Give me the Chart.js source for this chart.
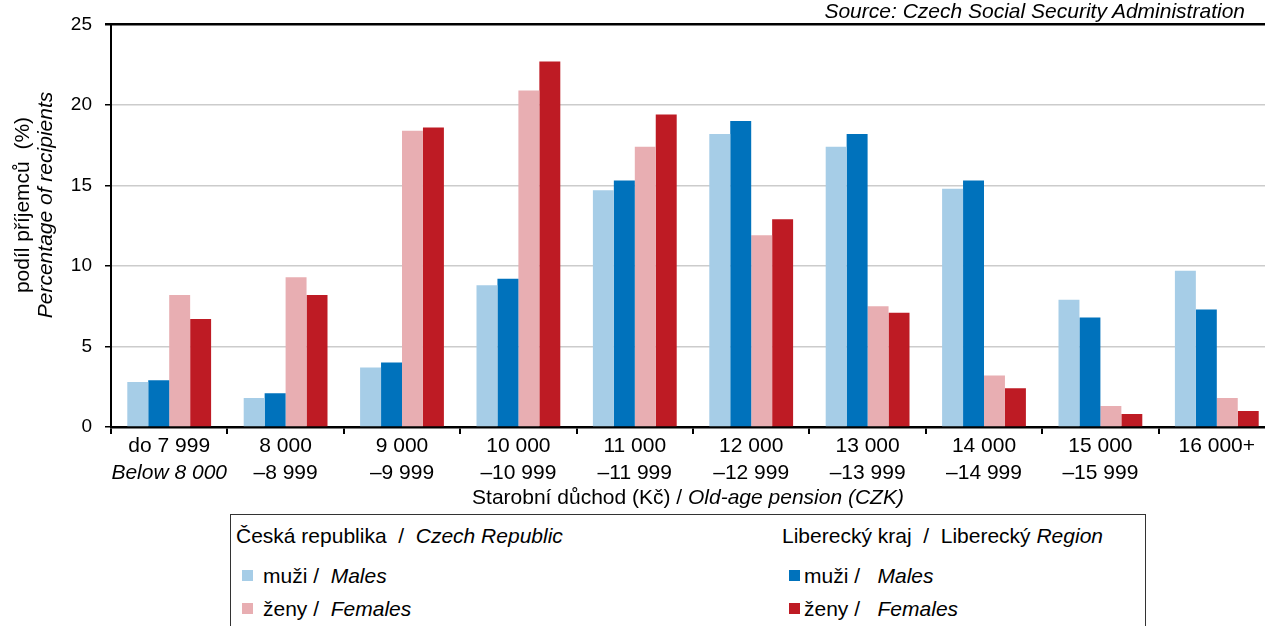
<!DOCTYPE html>
<html>
<head>
<meta charset="utf-8">
<script src="https://cdn.jsdelivr.net/npm/chart.js@4.4.1/dist/chart.umd.min.js"></script>
<style>
  body { margin: 0; background: #fff; overflow: hidden; width: 1265px; height: 626px; position: relative;
         font-family: "Liberation Sans", Arial, sans-serif; color: #000; }
  #wrap { position: absolute; left: 0; top: 0; width: 1276px; height: 512px; }
  .t { position: absolute; font-size: 21px; line-height: 24px; white-space: pre; }
  .i { font-style: italic; }
  .sq { position: absolute; width: 11px; height: 11px; }
  #legend { position: absolute; left: 230px; top: 514px; width: 916px; height: 140px;
            border: 1.5px solid #333; box-sizing: border-box; }
  #ytitle { position: absolute; left: -117px; top: 182px; width: 300px; height: 46px; white-space: pre;
            transform: rotate(-90deg); text-align: center; font-size: 21px; line-height: 23px; }
</style>
</head>
<body>
<div id="wrap"><canvas id="myChart" width="1276" height="512"></canvas></div>

<div class="t i" style="right:20px; top:-1px;">Source: Czech Social Security Administration</div>
<div id="ytitle">podíl příjemců  (%)<br><span class="i">Percentage of recipients</span></div>
<div class="t" style="left:388px; width:600px; top:485px; text-align:center;">Starobní důchod (Kč) / <span class="i">Old-age pension (CZK)</span></div>

<div id="legend"></div>
<div class="t" style="left:236px; top:524px;">Česká republika  /  <span class="i">Czech Republic</span></div>
<div class="sq" style="left:242px; top:570px; background:#a6cde7;"></div>
<div class="t" style="left:263px; top:564px;">muži /  <span class="i">Males</span></div>
<div class="sq" style="left:242px; top:603px; background:#e8aeb2;"></div>
<div class="t" style="left:263px; top:597px;">ženy /  <span class="i">Females</span></div>

<div class="t" style="left:782px; top:524px;">Liberecký kraj  /  Liberecký <span class="i">Region</span></div>
<div class="sq" style="left:789px; top:570px; background:#0072bc;"></div>
<div class="t" style="left:804px; top:564px;">muži /   <span class="i">Males</span></div>
<div class="sq" style="left:789px; top:603px; background:#be1b24;"></div>
<div class="t" style="left:804px; top:597px;">ženy /   <span class="i">Females</span></div>

<script>
// pension bands (two label lines)
const bandsTop = ['do 7 999', '8 000', '9 000', '10 000', '11 000', '12 000', '13 000', '14 000', '15 000', '16 000+'];
const bandsBottom = ['Below 8 000', '–8 999', '–9 999', '–10 999', '–11 999', '–12 999', '–13 999', '–14 999', '–15 999', ''];

// share of recipients (%)
const czMales   = [2.8, 1.8, 3.7, 8.8, 14.7, 18.2, 17.4, 14.8, 7.9, 9.7];
const lkMales   = [2.9, 2.1, 4.0, 9.2, 15.3, 19.0, 18.2, 15.3, 6.8, 7.3];
const czFemales = [8.2, 9.3, 18.4, 20.9, 17.4, 11.9, 7.5, 3.2, 1.3, 1.8];
const lkFemales = [6.7, 8.2, 18.6, 22.7, 19.4, 12.9, 7.1, 2.4, 0.8, 1.0];

const yTicks = [0, 5, 10, 15, 20, 25];

Chart.defaults.font.family = '"Liberation Sans", Arial, sans-serif';
Chart.defaults.color = '#000';

const ctx = document.getElementById('myChart').getContext('2d');
const myChart = new Chart(ctx, {
    type: 'bar',
    data: {
        labels: bandsTop,
        datasets: [
            { data: czMales,   backgroundColor: '#a6cde7', xAxisID: 'x' },
            { data: lkMales,   backgroundColor: '#0072bc', xAxisID: 'x' },
            { data: czFemales, backgroundColor: '#e8aeb2', xAxisID: 'x' },
            { data: lkFemales, backgroundColor: '#be1b24', xAxisID: 'x' }
        ]
    },
    options: {
        responsive: false,
        animation: false,
        categoryPercentage: 0.72,
        barPercentage: 1.0,
        layout: { padding: { top: 22, right: 1, left: 0, bottom: 27 } },
        scales: {
            x: {
                weight: 0,
                grid: { offset: true, drawOnChartArea: false, drawTicks: true, tickLength: 7, color: '#000', lineWidth: 2 },
                border: { color: '#000', width: 2.5 },
                ticks: { font: { size: 21 }, padding: 0, maxRotation: 0, autoSkip: false },
                afterFit: s => { s.height = 34; }
            },
            x2: {
                type: 'category',
                position: 'bottom',
                weight: 1,
                labels: bandsBottom,
                offset: true,
                grid: { display: false, drawTicks: false },
                border: { display: false },
                ticks: {
                    font: c => ({ size: 21, style: c.index === 0 ? 'italic' : 'normal' }),
                    padding: 0, maxRotation: 0, autoSkip: false
                },
                afterFit: s => { s.height = 24; }
            },
            y: {
                min: 0,
                max: 25,
                afterBuildTicks: s => { s.ticks = yTicks.map(v => ({ value: v })); },
                grid: {
                    color: c => (c.tick && c.tick.value === 25 ? '#000' : '#cccccc'),
                    lineWidth: c => (c.tick && c.tick.value === 25 ? 2.5 : 1.5),
                    tickColor: '#000',
                    tickLength: 6
                },
                border: { color: '#000', width: 2 },
                ticks: { font: { size: 19 }, padding: 13 },
                afterFit: s => { s.width = 111; }
            }
        },
        plugins: {
            legend: { display: false },
            tooltip: { enabled: false }
        }
    }
});
</script>
</body>
</html>
